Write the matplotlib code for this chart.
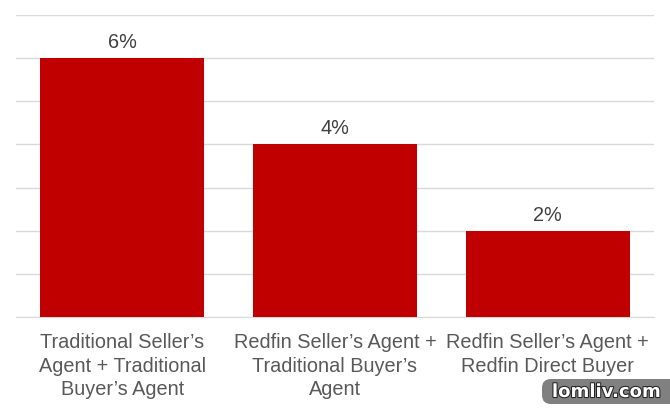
import matplotlib
matplotlib.use("Agg")
import matplotlib.pyplot as plt
import matplotlib.patheffects as pe
from matplotlib.patches import FancyBboxPatch
from matplotlib.transforms import IdentityTransform

plt.rcParams['font.family'] = ['Liberation Sans', 'DejaVu Sans']

categories = ["Traditional Seller\u2019s\nAgent + Traditional\nBuyer\u2019s Agent",
              "Redfin Seller\u2019s Agent +\nTraditional Buyer\u2019s\nAgent",
              "Redfin Seller\u2019s Agent +\nRedfin Direct Buyer"]
values = [6, 4, 2]
labels = ["6%", "4%", "2%"]
ticks = [0, 1, 2, 3, 4, 5, 6, 7]

fig = plt.figure(figsize=(6.70, 4.08), dpi=100)
ax = fig.add_axes([16 / 670, 1 - 317 / 408, 638 / 670, 302 / 408])

x = range(len(values))
ax.bar(x, values, width=0.77, color="#c00000", zorder=3)
ax.set_xlim(-0.5, 2.5)
ax.set_ylim(0, 7)
ax.set_yticks(ticks)
ax.tick_params(left=False, bottom=False, labelleft=False)
ax.grid(axis="y", color="#d9d9d9", linewidth=1, zorder=0)
for s in ["top", "left", "right"]:
    ax.spines[s].set_visible(False)
ax.spines["bottom"].set_color("#d9d9d9")

ax.set_xticks(list(x))
ax.set_xticklabels(categories, fontsize=14.3, color="#595959", linespacing=1.3)
ax.tick_params(axis="x", pad=8.2)

for i, v in enumerate(values):
    ax.annotate(labels[i], (i, v), xytext=(0, 4.3), textcoords="offset points",
                ha="center", va="bottom", fontsize=14.3, color="#404040")

# watermark, box given in pixels
box = FancyBboxPatch((542, 4), 140, 25, boxstyle="round,pad=0,rounding_size=9",
                     transform=IdentityTransform(), facecolor="#808080", edgecolor="none")
fig.add_artist(box)
fig.text(606 / 670, 1 - 392 / 408, "lomliv.com", ha="center", va="center", fontsize=13,
         fontweight="bold", family="DejaVu Sans", color="white",
         path_effects=[pe.withStroke(linewidth=1.5, foreground="#222222")])

fig.savefig("out.png", dpi=100)
